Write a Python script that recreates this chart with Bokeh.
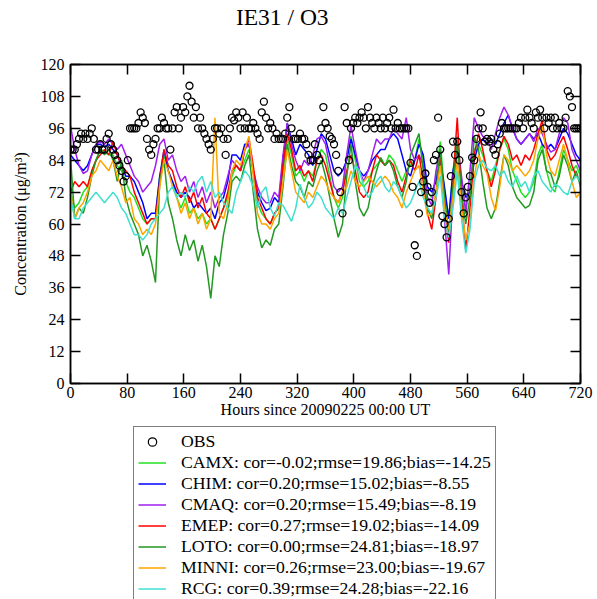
from bokeh.plotting import figure
from bokeh.layouts import column
from bokeh.models import (LinearAxis, Range1d, FixedTicker, Legend, LegendItem,
                          Label, CustomLabelingPolicy)
from bokeh.embed import file_html
from bokeh.resources import INLINE

FONT = "Liberation Serif"

# ---------------- data ----------------
title_text = "IE31 / O3"
x_label = "Hours since 20090225 00:00 UT"
y_label = "Concentration (\u03bcg/m\u00b3)"

obs_hours = list(range(0, 721, 3))
obs = [
    88, 88, 88, 90, 92, 94, 92, 94, 92, 94,
    96, 92, 88, 88, 90, 88, 88, 92, 94, 90,
    88, 86, 84, 82, 80, 76, 78, 84, 96, 96,
    96, 96, 98, 102, 100, 98, 92, 88, 86, 90,
    92, 96, 96, 100, 98, 96, 96, 88, 96, 102,
    104, 96, 100, 104, 102, 108, 112, 106, 100, 104,
    96, 100, 96, 94, 92, 90, 88, 92, 96, 96,
    94, 96, 92, 86, 92, 96, 100, 99, 102, 100,
    96, 102, 96, 100, 96, 96, 98, 96, 94, 92,
    102, 106, 100, 96, 98, 96, 92, 94, 92, 92,
    92, 94, 100, 104, 96, 92, 92, 92, 94, 92,
    92, 90, 86, 84, 84, 90, 86, 84, 96, 104,
    98, 96, 93, 92, 90, 86, 80, 72, 64, 104,
    98, 84, 96, 98, 100, 98, 100, 102, 100, 96,
    104, 100, 98, 96, 100, 98, 96, 100, 96, 98,
    100, 96, 103, 96, 98, 96, 96, 96, 96, 96,
    83, 74, 52, 48, 64, 72, 76, 79, 74, 68,
    72, 84, 86, 100, 88, 63, 60, 55, 62, 78,
    91, 86, 91, 84, 72, 64, 70, 74, 78, 85,
    84, 92, 96, 102, 96, 91, 92, 91, 92, 88,
    86, 90, 94, 98, 96, 96, 96, 96, 96, 96,
    96, 98, 100, 96, 100, 103, 100, 98, 96, 102,
    100, 103, 100, 96, 100, 98, 100, 96, 100, 96,
    98, 96, 96, 100, 110, 108, 104, 96, 96, 96,
    96,
]

model_hours = list(range(0, 721, 6))

camx = [
    72, 66, 68, 72, 74, 80, 84, 88, 87, 86,
    86, 82, 80, 76, 72, 70, 66, 62, 60, 62,
    62, 78, 86, 80, 76, 70, 66, 70, 64, 66,
    62, 64, 60, 62, 58, 62, 66, 70, 78, 82,
    80, 84, 88, 80, 68, 64, 62, 60, 64, 66,
    80, 92, 86, 78, 80, 76, 80, 78, 84, 88,
    86, 78, 70, 66, 70, 86, 93, 84, 76, 74,
    76, 80, 82, 84, 82, 86, 84, 80, 76, 80,
    82, 84, 92, 84, 72, 70, 78, 91, 72, 62,
    80, 93, 76, 66, 74, 88, 90, 86, 80, 76,
    82, 88, 92, 88, 80, 76, 72, 70, 72, 76,
    86, 90, 80, 74, 72, 80, 88, 84, 80, 82,
    78,
]
chim = [
    86, 84, 82, 80, 82, 86, 90, 90, 89, 90,
    88, 86, 82, 78, 78, 76, 72, 68, 62, 64,
    64, 78, 88, 80, 76, 72, 70, 72, 70, 66,
    68, 66, 64, 66, 62, 68, 70, 76, 86, 86,
    84, 90, 90, 80, 72, 68, 65, 66, 70, 68,
    84, 98, 92, 86, 90, 88, 86, 82, 88, 94,
    92, 86, 80, 78, 80, 84, 92, 86, 80, 78,
    80, 84, 86, 88, 88, 92, 94, 92, 86, 80,
    78, 84, 90, 86, 74, 72, 76, 84, 74, 62,
    80, 88, 76, 70, 72, 84, 90, 92, 90, 92,
    90, 94, 98, 101, 96, 92, 90, 92, 94, 92,
    94, 90, 88, 90, 88, 92, 96, 94, 90, 86,
    84,
]
cmaq = [
    97, 88, 82, 79, 80, 86, 90, 91, 90, 92,
    90, 88, 90, 86, 82, 78, 76, 72, 74, 76,
    82, 90, 92, 84, 86, 80, 76, 78, 72, 76,
    70, 74, 68, 72, 66, 70, 72, 78, 84, 82,
    80, 88, 90, 80, 74, 70, 68, 68, 72, 70,
    86, 98, 90, 84, 80, 84, 82, 86, 92, 93,
    90, 82, 74, 72, 74, 86, 97, 88, 80, 76,
    80, 86, 92, 90, 92, 92, 96, 94, 92, 100,
    88, 84, 86, 82, 70, 67, 80, 88, 62, 41,
    72, 91, 78, 64, 80, 100, 96, 93, 92, 88,
    94, 100, 104, 101, 96, 92, 90, 92, 94, 91,
    96, 94, 90, 87, 88, 94, 100, 98, 88, 84,
    80,
]
emep = [
    72, 76, 74, 76, 74, 80, 84, 86, 88, 86,
    91, 86, 82, 80, 78, 72, 68, 64, 60, 62,
    62, 76, 88, 82, 80, 74, 70, 74, 68, 72,
    66, 70, 64, 62, 58, 62, 66, 72, 80, 82,
    80, 88, 92, 82, 70, 66, 62, 60, 64, 66,
    82, 94, 88, 80, 82, 78, 80, 76, 84, 86,
    82, 76, 70, 68, 72, 80, 86, 80, 72, 70,
    72, 80, 86, 84, 82, 84, 82, 76, 72, 78,
    84, 80, 86, 76, 64, 58, 70, 87, 66, 53,
    76, 100, 70, 50, 66, 86, 94, 88, 80, 74,
    80, 88, 93, 90, 84, 86, 82, 86, 84, 88,
    94, 99, 88, 84, 86, 90, 93, 88, 82, 78,
    76,
]
loto = [
    85, 62, 66, 64, 70, 78, 84, 88, 86, 88,
    84, 76, 84, 70, 64, 60, 56, 48, 52, 46,
    38, 76, 84, 68, 62, 54, 48, 56, 50, 54,
    46, 52, 44, 32, 48, 44, 56, 64, 76, 78,
    76, 82, 86, 72, 58, 51, 54, 52, 58, 60,
    74, 90, 82, 76, 74, 70, 76, 74, 80, 84,
    78, 70, 62, 55, 60, 78, 90, 76, 66, 63,
    66, 74, 80, 85, 82, 84, 80, 74, 70, 76,
    86, 90, 94, 80, 66, 62, 72, 88, 70, 57,
    74, 91, 72, 60, 70, 93, 88, 76, 66, 62,
    66, 76, 86, 82, 74, 70, 68, 66, 67, 72,
    84, 88, 80, 79, 74, 78, 86, 82, 76, 80,
    74,
]
minni = [
    72, 62, 66, 68, 72, 78, 80, 84, 82, 80,
    84, 78, 74, 68, 70, 62, 60, 56, 58, 56,
    60, 74, 84, 80, 74, 70, 64, 68, 62, 66,
    60, 64, 58, 62, 100, 64, 62, 68, 80, 84,
    82, 88, 93, 78, 64, 60, 60, 58, 62, 64,
    76, 88, 80, 72, 70, 68, 72, 70, 74, 78,
    76, 72, 70, 68, 72, 74, 80, 76, 74, 76,
    78, 76, 74, 76, 78, 76, 72, 70, 66, 72,
    76, 80, 82, 72, 63, 64, 72, 82, 66, 58,
    70, 84, 66, 54, 60, 78, 86, 82, 79, 70,
    65, 74, 86, 84, 80, 82, 80, 78, 80, 84,
    92, 97, 86, 80, 78, 84, 90, 84, 76, 70,
    72,
]
rcg = [
    70, 62, 62, 66, 68, 70, 72, 70, 68, 70,
    72, 70, 66, 64, 60, 56, 56, 54, 56, 60,
    62, 64, 66, 72, 74, 70, 72, 70, 74, 72,
    76, 78, 72, 76, 70, 72, 68, 66, 64, 72,
    76, 80, 78, 74, 66, 72, 74, 66, 63, 68,
    67, 64, 61, 66, 75, 70, 66, 68, 72, 70,
    66, 64, 62, 66, 64, 70, 76, 82, 80, 74,
    70, 72, 76, 78, 74, 72, 76, 74, 70, 66,
    68, 72, 76, 70, 66, 64, 70, 78, 62, 55,
    66, 80, 62, 49, 58, 76, 82, 84, 81, 80,
    82, 78, 80, 76, 74, 78, 74, 76, 72, 78,
    80, 76, 74, 72, 75, 74, 72, 71, 76, 78,
    76,
]

model_names = ["CAMX", "CHIM", "CMAQ", "EMEP", "LOTO", "MINNI", "RCG"]
model_cor = ["-0.02", "0.20", "0.20", "0.27", "0.00", "0.26", "0.39"]
model_rmse = ["19.86", "15.02", "15.49", "19.02", "24.81", "23.00", "24.28"]
model_bias = ["-14.25", "-8.55", "-8.19", "-14.09", "-18.97", "-19.67", "-22.16"]
model_series = [camx, chim, cmaq, emep, loto, minni, rcg]
model_colors = ["#22e022", "#0000ff", "#a020f0", "#ff0000", "#229922", "#ffa500", "#40e0d0"]

x_ticks = [0, 80, 160, 240, 320, 400, 480, 560, 640, 720]
y_ticks = [0, 12, 24, 36, 48, 60, 72, 84, 96, 108, 120]

# ---------------- layout constants (pixels) ----------------
W = 597
LEFT = 70
RIGHT = 17
TITLE_H = 30
LEG_H = 173

# ---------------- title strip ----------------
# x range maps data units 1:1 to page pixels so the title can be centred off the frame
tfig = figure(width=W, height=TITLE_H, x_range=Range1d(LEFT, W - RIGHT), y_range=Range1d(0, TITLE_H),
              min_border=0, min_border_left=LEFT, min_border_right=RIGHT,
              x_axis_location=None, y_axis_location=None,
              outline_line_color=None, toolbar_location=None, output_backend="svg",
              background_fill_color="white", border_fill_color="white")
tfig.grid.visible = False
tfig.add_layout(Label(x=286, y=TITLE_H - 16.5, text=title_text, text_align="center",
                      text_baseline="middle", text_font=FONT, text_font_size="23.5px",
                      text_color="black"))

# ---------------- main plot ----------------
p = figure(
    frame_width=W - LEFT - RIGHT, frame_height=319,
    x_range=Range1d(0, 720), y_range=Range1d(0, 120),
    output_backend="svg", toolbar_location=None,
    min_border_left=LEFT, min_border_right=RIGHT, min_border_top=34, min_border_bottom=43,
    background_fill_color="white", border_fill_color="white",
)
p.xgrid.visible = False
p.ygrid.visible = False
p.outline_line_color = "black"
p.outline_line_width = 1.5

hide_labels = CustomLabelingPolicy(code="""
try { for (const i of indices) { indices.unset(i) } }
catch (e) { for (const i of indices) { indices.set(i, false) } }
return indices
""")


def style_axis(ax, ticks, labels=True):
    ax.ticker = FixedTicker(ticks=ticks)
    ax.axis_line_color = "black"
    ax.axis_line_width = 1.5
    ax.major_tick_in = 10
    ax.major_tick_out = 0
    ax.major_tick_line_color = "black"
    ax.major_tick_line_width = 1.5
    ax.minor_tick_line_color = None
    ax.major_label_text_font = FONT
    ax.major_label_text_font_size = "16px"
    ax.major_label_text_color = "black"
    ax.axis_label_text_font = FONT
    ax.axis_label_text_font_size = "16px"
    ax.axis_label_text_font_style = "normal"
    ax.axis_label_text_color = "black"
    if not labels:
        ax.major_label_policy = hide_labels
        ax.major_label_standoff = 0


style_axis(p.xaxis[0], x_ticks)
style_axis(p.yaxis[0], y_ticks)
p.xaxis[0].axis_label = x_label
p.xaxis[0].major_label_standoff = 3
p.xaxis[0].axis_label_standoff = 0
p.yaxis[0].axis_label = y_label
p.yaxis[0].major_label_standoff = 6
p.yaxis[0].axis_label_standoff = 9

top_ax = LinearAxis()
style_axis(top_ax, x_ticks, labels=False)
p.add_layout(top_ax, "above")
right_ax = LinearAxis()
style_axis(right_ax, y_ticks, labels=False)
p.add_layout(right_ax, "right")

for ser, col in zip(model_series, model_colors):
    p.line(model_hours, ser, line_color=col, line_width=1.5)
p.scatter(obs_hours, obs, marker="circle", size=7, fill_color=None,
          line_color="black", line_width=1.3)

# ---------------- legend strip ----------------
# legend swatches need one data row each; the ranges keep that row out of view
lfig = figure(width=W, height=LEG_H, x_range=Range1d(-2, -1), y_range=Range1d(-2, -1),
              min_border=0, min_border_left=LEFT, min_border_right=RIGHT,
              x_axis_location=None, y_axis_location=None,
              outline_line_color=None, toolbar_location=None, output_backend="svg",
              background_fill_color="white", border_fill_color="white")
lfig.grid.visible = False

items = []
r_obs = lfig.scatter(obs_hours[:1], obs[:1], marker="circle", size=6, fill_color=None,
                     line_color="black", line_width=1.2)
items.append(LegendItem(label="OBS", renderers=[r_obs]))
for name, c, rm, b, col, ser in zip(model_names, model_cor, model_rmse, model_bias,
                                    model_colors, model_series):
    r = lfig.line(model_hours[:1], ser[:1], line_color=col, line_width=1.5)
    items.append(LegendItem(label=f"{name}: cor={c};rmse={rm};bias={b}", renderers=[r]))

legend = Legend(
    items=items, location=(133 - LEFT, -5),
    label_text_font=FONT, label_text_font_size="17.7px", label_text_color="black",
    label_height=21, glyph_height=21, glyph_width=28, label_standoff=15,
    spacing=0, padding=4, margin=0,
    border_line_color="black", border_line_width=1.5,
    background_fill_color="white", background_fill_alpha=1.0,
)
lfig.add_layout(legend)

layout = column(tfig, p, lfig, spacing=0)
open("out.html", "w").write(file_html(layout, INLINE))
